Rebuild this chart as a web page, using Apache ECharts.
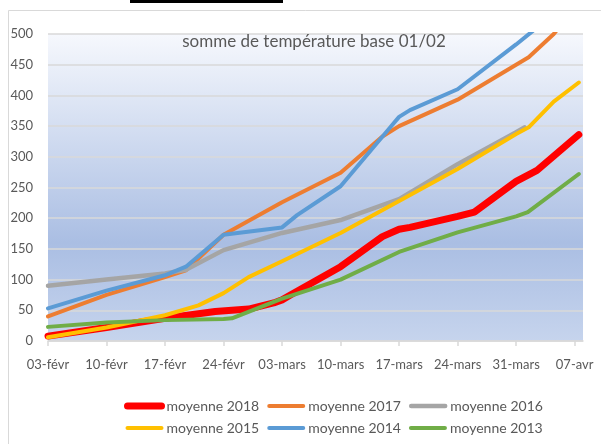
<!DOCTYPE html>
<html>
<head>
<meta charset="utf-8">
<script src="https://cdn.jsdelivr.net/npm/echarts@6/dist/echarts.min.js"></script>
<style>html,body{margin:0;padding:0;background:#fff}#c{width:601px;height:444px}</style>
</head>
<body>
<div id="c"></div>
<script>
// x = days since 03-févr
const tickLabels = ['03-févr','10-févr','17-févr','24-févr','03-mars','10-mars','17-mars','24-mars','31-mars','07-avr'];
const yTicks = [0,50,100,150,200,250,300,350,400,450,500];

const days2018 = [0,7,14,20,24,27,28,29,35,40,42,43.3,49,51,54,56,58.5,63.5];
const vals2018 = [8,22,37,48,52,62,67,75,121,170,182,185,203,210,240,260,278,336];

const days2017 = [0,7,14,16.5,21,28,35,40,42,49,56,57.5,60.5,61.5];
const vals2017 = [40,75,104,115,173,226,274,333,350,393,450,462,500,517];

const days2016 = [0,7,14,16.5,21,28,35,42,49,56,57];
const vals2016 = [90,100,110,116,148,176,197,231,288,340,348];

const days2015 = [0,7,14,18,21,24,28,35,42,49,56,57.5,60.5,63.5];
const vals2015 = [6,22,42,58,78,104,130,176,228,280,337,348,390,421];

const days2014 = [0,7,14,16.5,21,28,29.8,35,41,42,43.3,49,56,58];
const vals2014 = [53,82,107,121,173,185,205,252,349,365,376,410,483,505];

const days2013 = [0,7,14,21,22,28,35,42,49,56,57.4,63.5];
const vals2013 = [23,30,34,36,37,69,100,145,177,203,210,272];

const seriesDefs = [
  {name:'moyenne 2018', d:days2018, v:vals2018, color:'#FF0000', w:7},
  {name:'moyenne 2017', d:days2017, v:vals2017, color:'#ED7D31', w:4},
  {name:'moyenne 2016', d:days2016, v:vals2016, color:'#A5A5A5', w:4.5},
  {name:'moyenne 2015', d:days2015, v:vals2015, color:'#FFC000', w:4},
  {name:'moyenne 2014', d:days2014, v:vals2014, color:'#5B9BD5', w:4},
  {name:'moyenne 2013', d:days2013, v:vals2013, color:'#70AD47', w:4}
];

const chart = echarts.init(document.getElementById('c'), null, {renderer:'canvas'});
const txt = '#595959';
const font = 'Lato';
chart.setOption({
  animation:false,
  backgroundColor:'#ffffff',
  textStyle:{fontFamily:font},
  graphic:[
    {type:'rect', shape:{x:8.5,y:10.5,width:620,height:460}, style:{fill:'none',stroke:'#D9D9D9',lineWidth:1}, silent:true},
    {type:'rect', shape:{x:130,y:0,width:153,height:3}, style:{fill:'#000'}, silent:true}
  ],
  title:{text:'somme de température base 01/02', left:309, top:28, textAlign:'center',
    textStyle:{fontFamily:font,fontSize:17,fontWeight:'normal',color:txt}},
  grid:{left:48,right:18,top:34,bottom:103,show:true,borderWidth:0,
    backgroundColor:new echarts.graphic.LinearGradient(0,0,0,1,[
      {offset:0,color:'#F6F8FD'},{offset:0.68,color:'#AABEE3'},{offset:1,color:'#C6D4ED'}])},
  legend:{left:124, top:399, padding:0, width:450, itemWidth:34, itemHeight:14, itemGap:8,
    itemStyle:{opacity:0},
    textStyle:{fontFamily:font,fontSize:14,color:txt,width:96},
    data:seriesDefs.map(s=>({name:s.name, lineStyle:{width:s.w, color:s.color, cap:'round'}}))},
  xAxis:{type:'value', min:0, max:64, interval:7,
    axisLine:{show:true,lineStyle:{color:'#D9D9D9',width:1.5}},
    axisTick:{show:true,length:5,lineStyle:{color:'#D9D9D9',width:1.5}, customValues:tickLabels.map((t,i)=>i*7)},
    splitLine:{show:false},
    axisLabel:{color:txt,fontSize:13,fontFamily:font,margin:17, customValues:tickLabels.map((t,i)=>i*7),
      formatter:(v)=>tickLabels[Math.round(v/7)] || ''}},
  yAxis:{type:'value', min:0, max:500, interval:50,
    axisLine:{show:false}, axisTick:{show:false},
    splitLine:{lineStyle:{color:'#D9D9D9',width:1.5}},
    axisLabel:{color:txt,fontSize:13,fontFamily:font,margin:15,
      formatter:(v)=> yTicks.indexOf(v)>=0 ? String(v) : ''}},
  series:seriesDefs.map(s=>({
    name:s.name, type:'line', symbol:'none', smooth:false, clip:true,
    data:s.d.map((d,i)=>[d,s.v[i]]),
    lineStyle:{color:s.color,width:s.w,cap:'round',join:'round'},
    itemStyle:{color:s.color}
  }))
});
</script>
</body>
</html>
